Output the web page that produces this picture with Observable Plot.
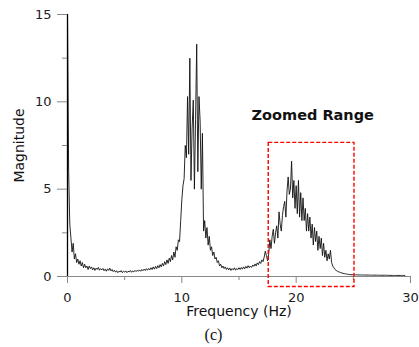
<!DOCTYPE html>
<html>
<head>
<meta charset="utf-8">
<script src="https://cdn.jsdelivr.net/npm/d3@7"></script>
<script src="https://cdn.jsdelivr.net/npm/@observablehq/plot@0.6"></script>
<style>
  body { margin: 0; background: #fff; }
  #caption { width: 419px; height: 24px; text-align: center; font-family: "Liberation Serif", serif; font-size: 16px; line-height: 24px; color: #111; padding-left: 8px; box-sizing: border-box; }
</style>
</head>
<body>
<div id="chart"></div>
<div id="caption">(c)</div>
<script>
// Frequency grid: start and step (Hz)
const freqStart = 0;
const freqStep = 0.1;
// Magnitude, one row per Hz (10 samples each)
const magnitude = [
  15.0, 6.0, 3.0, 2.2, 1.4, 1.9, 1.0, 1.3, 0.8, 1.0,
  0.7, 0.9, 0.6, 0.8, 0.5, 0.7, 0.5, 0.6, 0.4, 0.6,
  0.45, 0.55, 0.38, 0.5, 0.35, 0.48, 0.4, 0.52, 0.36, 0.45,
  0.38, 0.46, 0.33, 0.42, 0.3, 0.44, 0.35, 0.48, 0.32, 0.4,
  0.28, 0.36, 0.25, 0.33, 0.22, 0.3, 0.26, 0.34, 0.22, 0.3,
  0.25, 0.32, 0.22, 0.3, 0.26, 0.34, 0.24, 0.32, 0.27, 0.35,
  0.28, 0.36, 0.3, 0.38, 0.3, 0.4, 0.33, 0.42, 0.34, 0.45,
  0.36, 0.46, 0.38, 0.5, 0.4, 0.55, 0.42, 0.58, 0.45, 0.62,
  0.5, 0.68, 0.55, 0.75, 0.6, 0.85, 0.68, 0.95, 0.75, 1.05,
  0.85, 1.2, 0.95, 1.4, 1.1, 1.7, 1.5, 2.1, 2.0, 3.2,
  4.4, 5.2, 5.6, 7.5, 6.8, 10.3, 7.0, 12.5, 5.5, 8.5,
  10.1, 5.0, 9.0, 13.3, 6.0, 10.3, 8.9, 5.0, 8.2, 2.6,
  3.2, 2.2, 2.8, 1.8, 2.3, 1.5, 1.7, 1.2, 1.4, 1.0,
  1.1, 0.8, 0.9, 0.6, 0.7, 0.5, 0.6, 0.45, 0.55, 0.4,
  0.5, 0.38, 0.48, 0.35, 0.45, 0.38, 0.5, 0.36, 0.46, 0.4,
  0.5, 0.4, 0.52, 0.42, 0.55, 0.44, 0.58, 0.48, 0.62, 0.5,
  0.6, 0.52, 0.66, 0.58, 0.72, 0.6, 0.78, 0.68, 0.85, 0.75,
  0.95, 0.85, 1.1, 1.45, 1.2, 0.9, 1.3, 2.1, 1.6, 2.3,
  2.7, 1.9, 2.5, 2.9, 2.2, 3.7, 3.0, 2.6, 3.5, 4.0,
  4.3, 3.4, 4.9, 5.7, 4.7, 5.0, 6.6, 4.5, 5.5, 3.9,
  5.2, 3.6, 5.5, 3.4, 4.8, 3.2, 4.5, 3.2, 3.9, 2.6,
  3.6, 2.6, 3.4, 2.2, 3.0, 1.8, 2.8, 2.0, 2.6, 1.5,
  2.3, 1.6, 2.2, 1.2, 1.9, 1.1, 1.5, 0.9, 1.3, 1.0,
  1.5, 0.8, 0.6, 0.5, 0.4, 0.35, 0.3, 0.27, 0.25, 0.22,
  0.2, 0.18, 0.17, 0.15, 0.14, 0.13, 0.12, 0.11, 0.1, 0.1,
  0.1, 0.1, 0.09, 0.1, 0.09, 0.09, 0.09, 0.09, 0.08, 0.09,
  0.08, 0.09, 0.08, 0.08, 0.08, 0.08, 0.08, 0.07, 0.08, 0.08,
  0.07, 0.08, 0.07, 0.07, 0.07, 0.07, 0.07, 0.07, 0.07, 0.07,
  0.07, 0.06, 0.07, 0.06, 0.06, 0.06, 0.06, 0.06, 0.06, 0.06,
  0.06, 0.06, 0.06, 0.06, 0.06, 0.06
];
const xMajorTicks = [0, 10, 20, 30];
const xMinorTicks = [5, 15, 25];
const yMajorTicks = [0, 5, 10, 15];
const yMinorTicks = [2.5, 7.5, 12.5];
const zoomRange = [{x1: 17.6, x2: 25.1, y1: -0.6, y2: 7.65}];
const annotation = [{x: 21.45, y: 9.2, label: "Zoomed Range"}];
const xLabel = "Frequency (Hz)";
const yLabel = "Magnitude";

const series = magnitude.map((m, i) => ({f: freqStart + i * freqStep, m}));
const font = "DejaVu Sans, sans-serif";

const chart = Plot.plot({
  width: 419,
  height: 323,
  marginLeft: 67,
  marginRight: 9,
  marginTop: 14,
  marginBottom: 47,
  style: {fontFamily: font, background: "#fff", overflow: "visible"},
  x: {domain: [0, 30]},
  y: {domain: [0, 15]},
  marks: [
    Plot.line(series, {x: "f", y: "m", stroke: "#111", strokeWidth: 0.9}),
    Plot.ruleY([0], {x1: -0.88, x2: 30, stroke: "#888", strokeWidth: 1}),
    Plot.ruleX([0], {stroke: "#000", strokeWidth: 1.3}),
    Plot.axisX(xMajorTicks, {tickSize: 7, tickPadding: 9, stroke: "#888", fill: "#222", fontSize: 13, label: null}),
    Plot.axisX(xMinorTicks, {tickSize: 4, tickFormat: () => "", stroke: "#888", label: null}),
    Plot.axisY(yMajorTicks, {tickSize: 10, tickPadding: 6, stroke: "#888", fill: "#222", fontSize: 13, label: null}),
    Plot.axisY(yMinorTicks, {tickSize: 5, tickFormat: () => "", stroke: "#888", label: null}),
    Plot.rect(zoomRange, {x1: "x1", x2: "x2", y1: "y1", y2: "y2", fill: "none", stroke: "#ff0000", strokeWidth: 1.4, strokeDasharray: "4,2"}),
    Plot.text(annotation, {x: "x", y: "y", text: "label", fontSize: 14.5, fontWeight: "bold", fill: "#111", fontFamily: font, letterSpacing: "2px"}),
    Plot.text([xLabel], {frameAnchor: "bottom", textAnchor: "middle", lineAnchor: "middle", dy: 35, fontSize: 14, fill: "#111", letterSpacing: "1.4px"}),
    Plot.text([yLabel], {frameAnchor: "left", textAnchor: "middle", lineAnchor: "middle", dx: -48, rotate: -90, fontSize: 14, fill: "#111"})
  ]
});
document.getElementById("chart").appendChild(chart);
</script>
</body>
</html>
